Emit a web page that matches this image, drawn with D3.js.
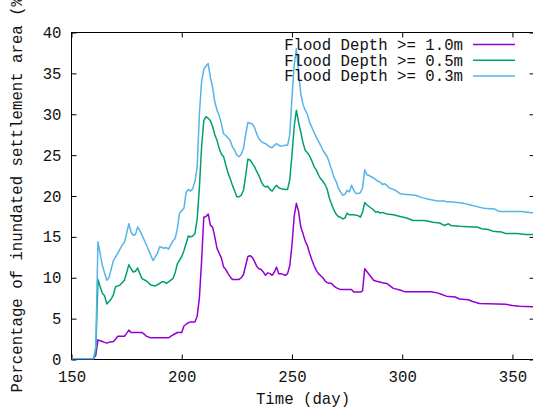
<!DOCTYPE html>
<html>
<head>
<meta charset="utf-8">
<script src="https://cdn.jsdelivr.net/npm/d3@7"></script>
<style>
  html, body { margin: 0; padding: 0; background: #fff; }
  svg { display: block; }
  text { font-family: "Courier New", "Nimbus Mono PS", "FreeMono", "Liberation Mono", monospace; font-size: 15.7px; fill: #111; }
</style>
</head>
<body>
<div id="chart"></div>
<script>
// Series: [day, percentage]
const depth10 = [[150,0.1],[160,0.1],[161,0.5],[162,2.4],[163,2.3],[164,2.2],[165,2.1],[166,2.0],[167,2.1],[169,2.2],[170,2.5],[171,2.85],[174,2.85],[175,3.2],[176,3.6],[177,3.3],[182,3.3],[183,3.1],[184,2.85],[186,2.65],[194,2.65],[196,3.0],[198,3.3],[200,3.3],[201,4.1],[203,4.5],[204,4.6],[206,4.6],[207,5.3],[208,7.5],[209,12],[210,17.4],[211,17.5],[212,17.8],[213,16.4],[214,16.2],[215,15.0],[216,13.6],[217,13.0],[218,12.4],[219,11.3],[220,11.0],[221,10.5],[222,10.1],[223,9.8],[226,9.8],[227,10.0],[228,10.4],[229,11.5],[230,12.6],[231,12.7],[232,12.5],[233,12.0],[234,11.4],[235,11.1],[236,11.0],[237,10.7],[238,10.3],[239,10.6],[240,10.5],[241,10.3],[242,10.7],[243,11.3],[244,10.5],[245,10.5],[247,10.3],[248,10.5],[249,11.5],[250,14.0],[251,17.5],[252,19.1],[253,18.1],[254,16.2],[255,15.4],[256,14.5],[257,13.9],[258,13.0],[259,12.2],[260,11.5],[261,10.9],[262,10.5],[264,10.0],[265,9.6],[266,9.4],[268,9.3],[269,9.0],[270,8.8],[272,8.55],[277,8.55],[278,8.25],[281,8.25],[282,8.4],[283,11.1],[285,10.4],[287,9.7],[288,9.6],[291,9.4],[293,9.3],[294,9.1],[296,8.7],[299,8.5],[301,8.3],[313,8.3],[316,8.15],[318,7.95],[320,7.75],[324,7.65],[326,7.4],[330,7.3],[332,7.1],[335,6.85],[347,6.75],[350,6.6],[353,6.5],[360,6.45]];

const depth05 = [[150,0.1],[160,0.1],[161,1],[162,9.8],[163,8.9],[164,8.1],[165,7.8],[166,6.8],[167,7.1],[168,7.4],[169,7.9],[170,8.9],[172,9.1],[174,9.7],[175,10.6],[176,11.6],[177,11.1],[178,10.7],[179,10.8],[180,11.2],[181,10.5],[182,9.9],[184,9.6],[186,9.1],[188,9.0],[190,9.3],[191,9.5],[192,9.5],[193,9.3],[194,9.5],[196,9.9],[197,10.6],[198,11.7],[200,12.6],[201,13.3],[203,15.1],[204,15.0],[205,15.1],[206,15.4],[207,17.2],[208,21],[209,26],[210,29.2],[211,29.7],[212,29.5],[213,29.2],[214,28.5],[215,27.5],[216,26.8],[217,25.8],[218,25.1],[219,24.8],[220,23.8],[221,22.8],[222,22.1],[223,21.3],[224,20.6],[225,19.9],[226,19.9],[227,20.1],[228,20.7],[229,22.5],[230,24.5],[231,24.4],[232,24.0],[233,23.6],[234,23.0],[235,22.5],[236,21.8],[237,21.3],[238,21.1],[239,21.2],[240,20.8],[241,20.6],[242,21.0],[243,21.3],[244,21.0],[245,20.9],[247,20.8],[248,20.8],[249,22],[250,25.0],[251,28.5],[252,30.5],[253,29.0],[254,27.8],[255,26.5],[256,25.6],[257,25.3],[258,24.9],[259,24.3],[260,23.6],[261,23.2],[262,22.6],[263,22.1],[264,21.8],[265,21.4],[266,20.8],[267,19.7],[268,19.0],[269,18.3],[270,17.8],[271,17.5],[272,17.4],[273,17.2],[274,17.3],[275,17.9],[276,17.7],[278,17.7],[280,17.6],[281,17.4],[282,18.0],[283,19.2],[284,18.9],[286,18.5],[287,18.3],[288,18.0],[289,18.1],[290,17.9],[291,18.0],[293,17.8],[296,17.7],[299,17.5],[302,17.3],[305,17.0],[310,17.0],[314,16.8],[317,16.7],[319,16.4],[321,16.6],[322,16.4],[326,16.3],[332,16.2],[334,16.2],[336,16.0],[339,15.9],[341,15.7],[345,15.6],[347,15.4],[352,15.4],[356,15.3],[360,15.3]];

const depth03 = [[150,0.1],[160,0.1],[161,1.5],[162,14.4],[164,11.5],[166,9.7],[167,10.0],[169,12.1],[171,13.0],[173,14.0],[174,14.3],[176,16.6],[177,15.6],[178,15.2],[179,15.3],[180,16.2],[181,15.8],[184,14.0],[187,12.1],[189,13.0],[190,13.8],[192,13.6],[193,13.7],[194,13.5],[196,14.5],[197,14.8],[198,16.0],[199,17.9],[201,18.5],[202,20.5],[203,20.8],[204,20.6],[205,20.9],[206,21.8],[207,23.6],[208,30],[209,34.0],[210,35.5],[211,35.9],[212,36.2],[213,34.5],[214,33.3],[215,31.5],[216,30.5],[217,29.8],[218,28.8],[219,27.6],[220,27.4],[221,27.1],[222,26.8],[223,26.0],[224,25.6],[225,25.0],[226,24.8],[227,25.1],[228,25.8],[229,27.5],[230,29.0],[231,28.9],[232,28.8],[233,28.4],[234,27.6],[235,27.0],[236,26.7],[237,26.5],[238,26.4],[239,26.2],[240,26.0],[241,25.9],[242,26.2],[243,26.4],[244,26.2],[245,26.1],[247,26.2],[248,26.2],[249,27.5],[250,32],[251,36],[252,38.0],[253,35.0],[254,32.5],[255,31.2],[256,30.5],[257,30.0],[258,29.0],[260,27.8],[261,27.2],[263,26.2],[264,25.6],[266,24.8],[267,24.0],[268,23.2],[269,22.3],[270,21.8],[271,21.0],[272,20.5],[273,20.1],[274,20.2],[275,20.7],[276,20.5],[277,21.3],[278,20.7],[279,20.3],[280,20.3],[281,20.4],[282,21.0],[283,23.2],[284,22.6],[285,22.5],[287,22.2],[289,21.8],[290,21.7],[291,21.4],[292,21.5],[293,21.3],[294,21.0],[295,20.9],[297,20.7],[299,20.3],[301,20.2],[306,20.1],[309,19.8],[312,19.6],[316,19.4],[319,19.4],[320,19.3],[322,19.3],[325,19.2],[328,19.1],[331,18.9],[334,18.7],[337,18.5],[342,18.4],[344,18.1],[350,18.1],[354,18.1],[357,18.0],[360,17.9]];

const seriesLabels = ['Flood Depth >= 1.0m', 'Flood Depth >= 0.5m', 'Flood Depth >= 0.3m'];
const seriesColors = ['#9400d3', '#009e73', '#56b4e9'];
const xTicks = [150, 200, 250, 300, 350];
const yTicks = [0, 5, 10, 15, 20, 25, 30, 35, 40];

const width = 533, height = 408;
const plotLeft = 71.5, plotRight = 534.5, plotTop = 32.5, plotBottom = 359.5;
const fontStack = '"Courier New", "Nimbus Mono PS", "FreeMono", "Liberation Mono", monospace';

const svg = d3.select('#chart').append('svg')
  .attr('width', width)
  .attr('height', height);

const x = d3.scaleLinear().domain([150, 360]).range([plotLeft, plotRight]);
const y = d3.scaleLinear().domain([0, 40]).range([plotBottom, plotTop]);

// clip for curves
svg.append('clipPath').attr('id', 'plot')
  .append('rect')
  .attr('x', plotLeft).attr('y', plotTop)
  .attr('width', plotRight - plotLeft).attr('height', plotBottom - plotTop);

// axes with inward ticks (gnuplot style, mirrored)
function styleAxis(g) {
  g.select('.domain').remove();
  g.selectAll('.tick line').attr('stroke', '#000').attr('stroke-width', 1);
  g.selectAll('.tick text').attr('fill', '#111')
    .style('font-family', fontStack).style('font-size', '15.7px');
}

svg.append('g')
  .attr('transform', `translate(0,${plotBottom})`)
  .call(d3.axisBottom(x).tickValues(xTicks).tickSize(-5).tickPadding(11))
  .call(styleAxis);

svg.append('g')
  .attr('transform', `translate(0,${plotTop})`)
  .call(d3.axisTop(x).tickValues(xTicks).tickSize(-5).tickFormat(''))
  .call(styleAxis);

svg.append('g')
  .attr('transform', `translate(${plotLeft},0)`)
  .call(d3.axisLeft(y).tickValues(yTicks).tickSize(-5).tickPadding(10))
  .call(styleAxis);

svg.append('g')
  .attr('transform', `translate(${plotRight},0)`)
  .call(d3.axisRight(y).tickValues(yTicks).tickSize(-5).tickFormat(''))
  .call(styleAxis);

svg.append('rect')
  .attr('x', plotLeft).attr('y', plotTop)
  .attr('width', plotRight - plotLeft).attr('height', plotBottom - plotTop)
  .attr('fill', 'none').attr('stroke', '#000').attr('stroke-width', 1);

// curves
const line = d3.line().x(d => x(d[0])).y(d => y(d[1]));
const allSeries = [depth10, depth05, depth03];

svg.append('g')
  .attr('clip-path', 'url(#plot)')
  .selectAll('path')
  .data(allSeries)
  .join('path')
  .attr('d', line)
  .attr('fill', 'none')
  .attr('stroke', (d, i) => seriesColors[i])
  .attr('stroke-width', 1.5)
  .attr('stroke-linejoin', 'round');

// legend
const legend = svg.append('g');
seriesLabels.forEach((label, i) => {
  const yy = 50 + i * 15.7;
  legend.append('text')
    .attr('x', 463).attr('y', yy)
    .attr('text-anchor', 'end')
    .text(label);
  legend.append('line')
    .attr('x1', 473).attr('x2', 515)
    .attr('y1', yy - 5.5).attr('y2', yy - 5.5)
    .attr('stroke', seriesColors[i])
    .attr('stroke-width', 1.5);
});

// axis titles
svg.append('text')
  .attr('x', (plotLeft + plotRight) / 2).attr('y', 404)
  .attr('text-anchor', 'middle')
  .text('Time (day)');

// the reference places this title so its top end runs past the canvas
svg.append('text')
  .attr('transform', 'translate(22,190) rotate(-90)')
  .attr('text-anchor', 'middle')
  .text('Percentage of inundated settlement area (%)');
</script>
</body>
</html>
